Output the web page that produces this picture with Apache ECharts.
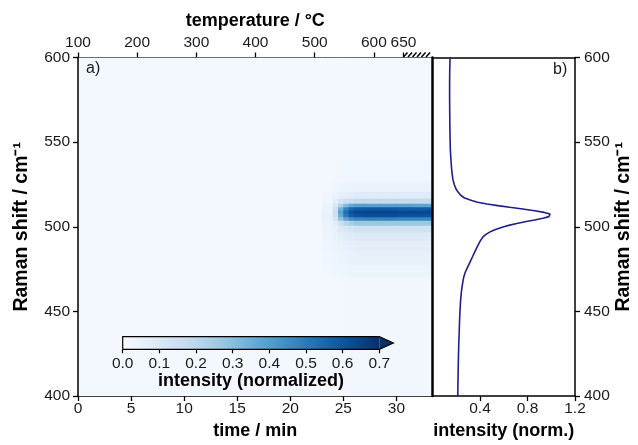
<!DOCTYPE html>
<html><head><meta charset="utf-8">
<script src="https://cdn.jsdelivr.net/npm/echarts@6/dist/echarts.min.js"></script>
<style>html,body{margin:0;padding:0;background:#fff}#c{width:638px;height:445px}</style>
</head><body><div id="c"></div>
<script>
// ---- data ----
const timeEdges = [0, 23, 24, 24.5, 25, 25.5, 26, 27, 28.5, 30, 31.5, 33.4];
const shiftEdges = [400, 470, 478, 486, 492, 497, 501, 504, 506, 508, 510, 512, 514, 517, 521, 527, 540, 600];
// normalized intensity, one row per time bin, values from low to high Raman shift
const intensityMap = [
  [.015,.015,.015,.015,.015,.015,.015,.015,.015,.015,.015,.015,.015,.015,.015,.015,.015],
  [.015,.02,.025,.03,.035,.04,.045,.05,.05,.05,.045,.04,.03,.025,.02,.015,.015],
  [.015,.025,.03,.04,.05,.06,.08,.12,.15,.16,.14,.11,.07,.045,.03,.02,.015],
  [.015,.03,.04,.05,.065,.09,.15,.28,.36,.38,.33,.22,.12,.06,.035,.02,.015],
  [.02,.035,.045,.06,.08,.11,.20,.38,.50,.53,.47,.31,.15,.07,.04,.025,.015],
  [.02,.04,.05,.065,.085,.12,.24,.44,.58,.61,.55,.37,.17,.08,.045,.025,.015],
  [.02,.04,.055,.07,.09,.14,.27,.47,.61,.63,.58,.39,.18,.085,.045,.025,.015],
  [.02,.04,.055,.07,.09,.14,.27,.48,.62,.64,.59,.39,.18,.085,.045,.025,.015],
  [.02,.04,.055,.07,.09,.14,.27,.48,.62,.64,.59,.39,.18,.085,.045,.025,.015],
  [.02,.04,.055,.07,.09,.14,.27,.47,.61,.63,.58,.39,.18,.085,.045,.025,.015],
  [.02,.04,.055,.07,.09,.14,.27,.47,.61,.63,.58,.38,.18,.085,.045,.025,.015]
];
const spectrumShift = [600,592,584,576,568,560,552,546,540,535,531,528,525,522.5,520.5,518.5,517,515.5,514.5,513.5,
  512.5,511.5,510.5,509.5,508.5,507.5,506.7,506,505,504,503,502,501,500,499,498,497,495.5,494,492,
  490,487.5,485,482,479,476,473,470,466,462,457,451,445,438,430,422,414,407,400];
const spectrumIntensity = [0.148,0.145,0.144,0.144,0.145,0.146,0.148,0.150,0.155,0.160,0.166,0.172,0.183,0.197,0.215,0.24,0.27,0.33,0.38,0.46,
  0.55,0.65,0.76,0.86,0.94,0.99,1.0,0.98,0.93,0.86,0.78,0.71,0.65,0.60,0.555,0.515,0.485,0.45,0.425,0.405,
  0.39,0.372,0.355,0.335,0.315,0.295,0.275,0.262,0.252,0.244,0.237,0.232,0.228,0.225,0.221,0.218,0.216,0.214,0.213];
const temperatureTicks = [100, 200, 300, 400, 500, 600, 650];
const temperatureRange = [100, 699];
const holdRange = [650, 699];
const colorbarRange = [0, 0.7];

// ---- build ----
const blues = ['#f7fbff','#deebf7','#c6dbef','#9ecae1','#6baed6','#4292c6','#2171b5','#08519c','#08306b'];
const cells = [];
for (let i = 0; i < intensityMap.length; i++) {
  for (let j = 0; j < intensityMap[i].length; j++) {
    cells.push([timeEdges[i], timeEdges[i+1], shiftEdges[j], shiftEdges[j+1], intensityMap[i][j]]);
  }
}
const spectrum = spectrumShift.map((s, k) => [spectrumIntensity[k], s]);

const FONT = 'Liberation Sans, Arial, sans-serif';
const TXT = '#1a1a1a';
const lab = (extra) => Object.assign({color: TXT, fontFamily: FONT, fontSize: 15.5}, extra || {});
const nameStyle = {color: '#000', fontFamily: FONT, fontSize: 18, fontWeight: 'bold'};
const yNameStyle = Object.assign({}, nameStyle, {fontSize: 19.5});
const line = (w) => ({show: true, onZero: false, lineStyle: {color: '#000', width: w || 1.5}});
const tick = {show: true, inside: false, length: 5, lineStyle: {color: '#000', width: 1.3}};

const chart = echarts.init(document.getElementById('c'), null, {renderer: 'canvas'});
chart.setOption({
  animation: false,
  backgroundColor: '#fff',
  grid: [
    {left: 78, top: 57.5, width: 354.5, height: 342.5},
    {left: 432.5, top: 57.5, width: 142.5, height: 342.5},
    {left: 122.7, top: 336.7, width: 256.6, height: 12.6}
  ],
  visualMap: {show: false, type: 'continuous', min: colorbarRange[0], max: colorbarRange[1], dimension: 4,
    seriesIndex: 0, inRange: {color: blues}},
  xAxis: [
    {gridIndex: 0, type: 'value', position: 'bottom', min: 0, max: 33.4, interval: 5,
      axisLine: line(), axisTick: tick, splitLine: {show: false},
      axisLabel: lab({margin: 5, showMaxLabel: false}),
      name: 'time / min', nameLocation: 'middle', nameGap: 23, nameTextStyle: nameStyle},
    {gridIndex: 0, type: 'value', position: 'top', min: temperatureRange[0], max: temperatureRange[1],
      axisLine: line(), axisTick: Object.assign({}, tick, {customValues: temperatureTicks}), splitLine: {show: false},
      axisLabel: lab({margin: 7, customValues: temperatureTicks}),
      name: 'temperature / °C', nameLocation: 'middle', nameGap: 27, nameTextStyle: nameStyle},
    {gridIndex: 1, type: 'value', position: 'bottom', min: 0, max: 1.2, interval: 0.4,
      axisLine: line(), axisTick: tick, splitLine: {show: false},
      axisLabel: lab({margin: 5, showMinLabel: false, formatter: v => v.toFixed(1)}),
      name: 'intensity (norm.)', nameLocation: 'middle', nameGap: 23, nameTextStyle: nameStyle},
    {gridIndex: 1, type: 'value', position: 'top', min: 0, max: 1.2,
      axisLine: line(), axisTick: {show: false}, axisLabel: {show: false}, splitLine: {show: false}},
    {gridIndex: 2, type: 'value', position: 'bottom', min: 0, max: 0.7, interval: 0.1, z: 20,
      axisLine: {show: false}, axisTick: {show: true, length: 4, lineStyle: {color: '#000', width: 1.2}},
      splitLine: {show: false},
      axisLabel: lab({margin: 6, formatter: v => v.toFixed(1)}),
      name: 'intensity (normalized)', nameLocation: 'middle', nameGap: 23, nameTextStyle: nameStyle}
  ],
  yAxis: [
    {gridIndex: 0, type: 'value', position: 'left', min: 400, max: 600, interval: 50, z: 20,
      axisLine: line(), axisTick: tick, splitLine: {show: false}, axisLabel: lab({margin: 8}),
      name: 'Raman shift / cm⁻¹', nameLocation: 'middle', nameGap: 46, nameTextStyle: yNameStyle},
    {gridIndex: 1, type: 'value', position: 'right', min: 400, max: 600, interval: 50,
      axisLine: line(), axisTick: tick, splitLine: {show: false}, axisLabel: lab({margin: 9}),
      name: 'Raman shift / cm⁻¹', nameLocation: 'middle', nameGap: 36, nameTextStyle: yNameStyle},
    {gridIndex: 1, type: 'value', position: 'left', min: 400, max: 600, z: 20,
      axisLine: line(2.5), axisTick: {show: false}, axisLabel: {show: false}, splitLine: {show: false}},
    {gridIndex: 2, type: 'value', min: 0, max: 1, show: false}
  ],
  graphic: [
    {type: 'text', left: 86, top: 61, z: 50, style: {text: 'a)', font: '16px ' + FONT, fill: TXT}},
    {type: 'text', left: 553, top: 62, z: 50, style: {text: 'b)', font: '16px ' + FONT, fill: TXT}}
  ],
  series: [
    {type: 'custom', name: 'map', xAxisIndex: 0, yAxisIndex: 0, clip: true, data: cells, z: 1,
      encode: {x: [0, 1], y: [2, 3]}, silent: true,
      renderItem: function (params, api) {
        const p0 = api.coord([api.value(0), api.value(3)]);
        const p1 = api.coord([api.value(1), api.value(2)]);
        return {type: 'rect', shape: {x: p0[0], y: p0[1], width: p1[0] - p0[0] + 0.7, height: p1[1] - p0[1] + 0.7},
          style: {fill: api.visual('color')}};
      }},
    {type: 'line', xAxisIndex: 2, yAxisIndex: 1, data: spectrum, showSymbol: false, silent: true,
      lineStyle: {color: '#1e1e8c', width: 1.6}, z: 5},
    {type: 'custom', xAxisIndex: 1, yAxisIndex: 0, data: [holdRange], clip: false, silent: true,
      encode: {x: [0, 1]},
      renderItem: function (params, api) {
        const x0 = api.coord([api.value(0), 600])[0];
        const x1 = api.coord([api.value(1), 600])[0];
        const top = params.coordSys.y;
        const kids = [];
        for (let x = x0; x + 4 <= x1 + 0.5; x += 4.5) {
          kids.push({type: 'line', shape: {x1: x, y1: top - 0.5, x2: x + 4, y2: top - 5},
            style: {stroke: '#000', lineWidth: 1.5}});
        }
        return {type: 'group', children: kids};
      }},
    {type: 'custom', xAxisIndex: 4, yAxisIndex: 3, data: [colorbarRange], clip: false, silent: true, z: 10,
      encode: {x: [0, 1]},
      renderItem: function (params, api) {
        const a = api.coord([api.value(0), 0]);
        const b = api.coord([api.value(1), 1]);
        const h = a[1] - b[1];
        const grad = new echarts.graphic.LinearGradient(0, 0, 1, 0,
          blues.map((c, i) => ({offset: i / (blues.length - 1), color: c})));
        return {type: 'group', children: [
          {type: 'rect', shape: {x: a[0], y: b[1], width: b[0] - a[0], height: h}, style: {fill: grad}},
          {type: 'polygon', shape: {points: [[b[0], b[1]], [b[0] + 14, b[1] + h / 2], [b[0], a[1]]]},
            style: {fill: '#08306b'}},
          {type: 'polygon', shape: {points: [[a[0], b[1]], [b[0], b[1]], [b[0] + 14, b[1] + h / 2], [b[0], a[1]], [a[0], a[1]]]},
            style: {fill: 'none', stroke: '#000', lineWidth: 1.2}}
        ]};
      }}
  ]
});
</script>
</body></html>
